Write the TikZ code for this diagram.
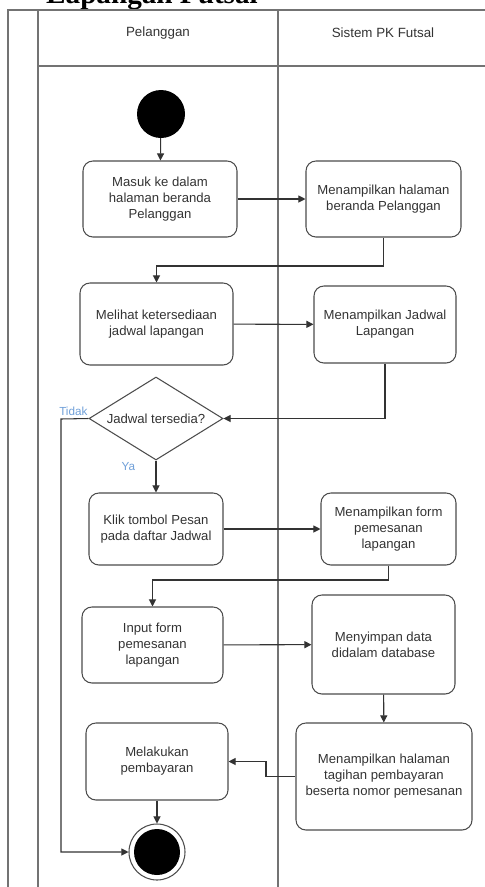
\documentclass[tikz,border=0pt]{standalone}
\usepackage{fontspec}
\setmainfont{Liberation Sans}
\newfontfamily\titlefont{Liberation Serif}
\usetikzlibrary{arrows.meta,shapes.geometric}
\definecolor{guardblue}{HTML}{6F9FD8}

\begin{document}
\begin{tikzpicture}[x=0.03cm, y=-0.03cm,
  act/.style={draw=black!70, line width=0.9pt, rounded corners=8.5pt, align=center,
    inner sep=2pt, text=black!80, font=\fontsize{11.2}{13.6}\selectfont},
  choice/.style={draw=black!70, line width=0.9pt, diamond, inner sep=0pt},
  flow/.style={draw=black!80, line width=0.9pt, -{Triangle[length=6pt,width=6pt]}},
  lane/.style={draw=black!55, line width=1.5pt},
  head/.style={text=black!80, font=\fontsize{11.4}{13.6}\selectfont},
  guard/.style={text=guardblue, font=\fontsize{10}{12}\selectfont}]

  \useasboundingbox (0,0) rectangle (485,887);

  % Title, cut off at the top
  \node[anchor=base west, inner sep=0pt, font=\titlefont\bfseries\fontsize{24.9}{28}\selectfont]
    (title) at (46,3.5) {Lapangan Futsal};

  % Lanes
  \draw[lane] (8,887) -- (8,10) -- (485,10);
  \draw[lane] (38,887) -- (38,10);
  \draw[lane] (38,66) -- (485,66);
  \draw[lane] (278,887) -- (278,10);

  \node[head] (pelanggan) at (158,33) {Pelanggan};
  \node[head] (sistem) at (383,33) {Sistem PK Futsal};

  % Start and end
  \node[circle, fill=black, minimum size=1.44cm, inner sep=0pt] (start) at (161,114) {};
  \node[circle, draw=black!70, line width=0.9pt, minimum size=1.68cm, inner sep=0pt] (stop) at (157,852) {};
  \fill[black] (stop.center) circle (0.69cm);

  % Actions
  \node[act, minimum width=4.62cm, minimum height=2.28cm] (masuk) at (160,199)
    {Masuk ke dalam\\halaman beranda\\Pelanggan};
  \node[act, minimum width=4.65cm, minimum height=2.28cm] (beranda) at (383.5,199)
    {Menampilkan halaman\\beranda Pelanggan};
  \node[act, minimum width=4.59cm, minimum height=2.46cm] (lihat) at (156.5,324)
    {Melihat ketersediaan\\jadwal lapangan};
  \node[act, minimum width=4.26cm, minimum height=2.31cm] (jadwal) at (385,324.5)
    {Menampilkan Jadwal\\Lapangan};
  \node[choice, minimum width=4.02cm, minimum height=2.49cm,
    label={[text=black!80, font=\fontsize{11.2}{13.6}\selectfont]center:Jadwal tersedia?}]
    (cek) at (156,418.5) {};
  \node[act, minimum width=4.02cm, minimum height=2.16cm] (klik) at (156,529)
    {Klik tombol Pesan\\pada daftar Jadwal};
  \node[act, minimum width=4.05cm, minimum height=2.16cm] (form) at (388.5,529)
    {Menampilkan form\\pemesanan\\lapangan};
  \node[act, minimum width=4.23cm, minimum height=2.28cm] (input) at (152.5,645)
    {Input form\\pemesanan\\lapangan};
  \node[act, minimum width=4.29cm, minimum height=2.97cm] (simpan) at (383.5,644.5)
    {Menyimpan data\\didalam database};
  \node[act, minimum width=5.28cm, minimum height=3.21cm] (tagihan) at (384,776.5)
    {Menampilkan halaman\\tagihan pembayaran\\beserta nomor pemesanan};
  \node[act, minimum width=4.26cm, minimum height=2.31cm] (bayar) at (157,761.5)
    {Melakukan\\pembayaran};

  % Bends
  \coordinate (b1) at (0,266);
  \coordinate (b2) at (61,419);
  \coordinate (b3) at (0,580);
  \coordinate (b4) at (266,0);

  % Flow
  \draw[flow] (start) -- (masuk);
  \draw[flow] (masuk) -- (beranda);
  \draw[flow] (beranda.south) -- (beranda.south |- b1) -| (lihat.north);
  \draw[flow] (lihat) -- (jadwal);
  \draw[flow] (jadwal.south) |- (cek.east);
  \draw[flow] (cek.south) -- node[guard, pos=0.2, left=14pt] {Ya} (klik.north);
  \draw[flow] (cek.west) -- node[guard, pos=0.55, above=-1pt] {Tidak} (b2) |- (stop.west);
  \draw[flow] (klik) -- (form);
  \draw[flow] (form.south) -- (form.south |- b3) -| (input.north);
  \draw[flow] (input) -- (simpan);
  \draw[flow] (simpan) -- (tagihan);
  \draw[flow] (tagihan.west) -- (tagihan.west -| b4) |- (bayar.east);
  \draw[flow] (bayar) -- (stop);

\end{tikzpicture}
\end{document}
